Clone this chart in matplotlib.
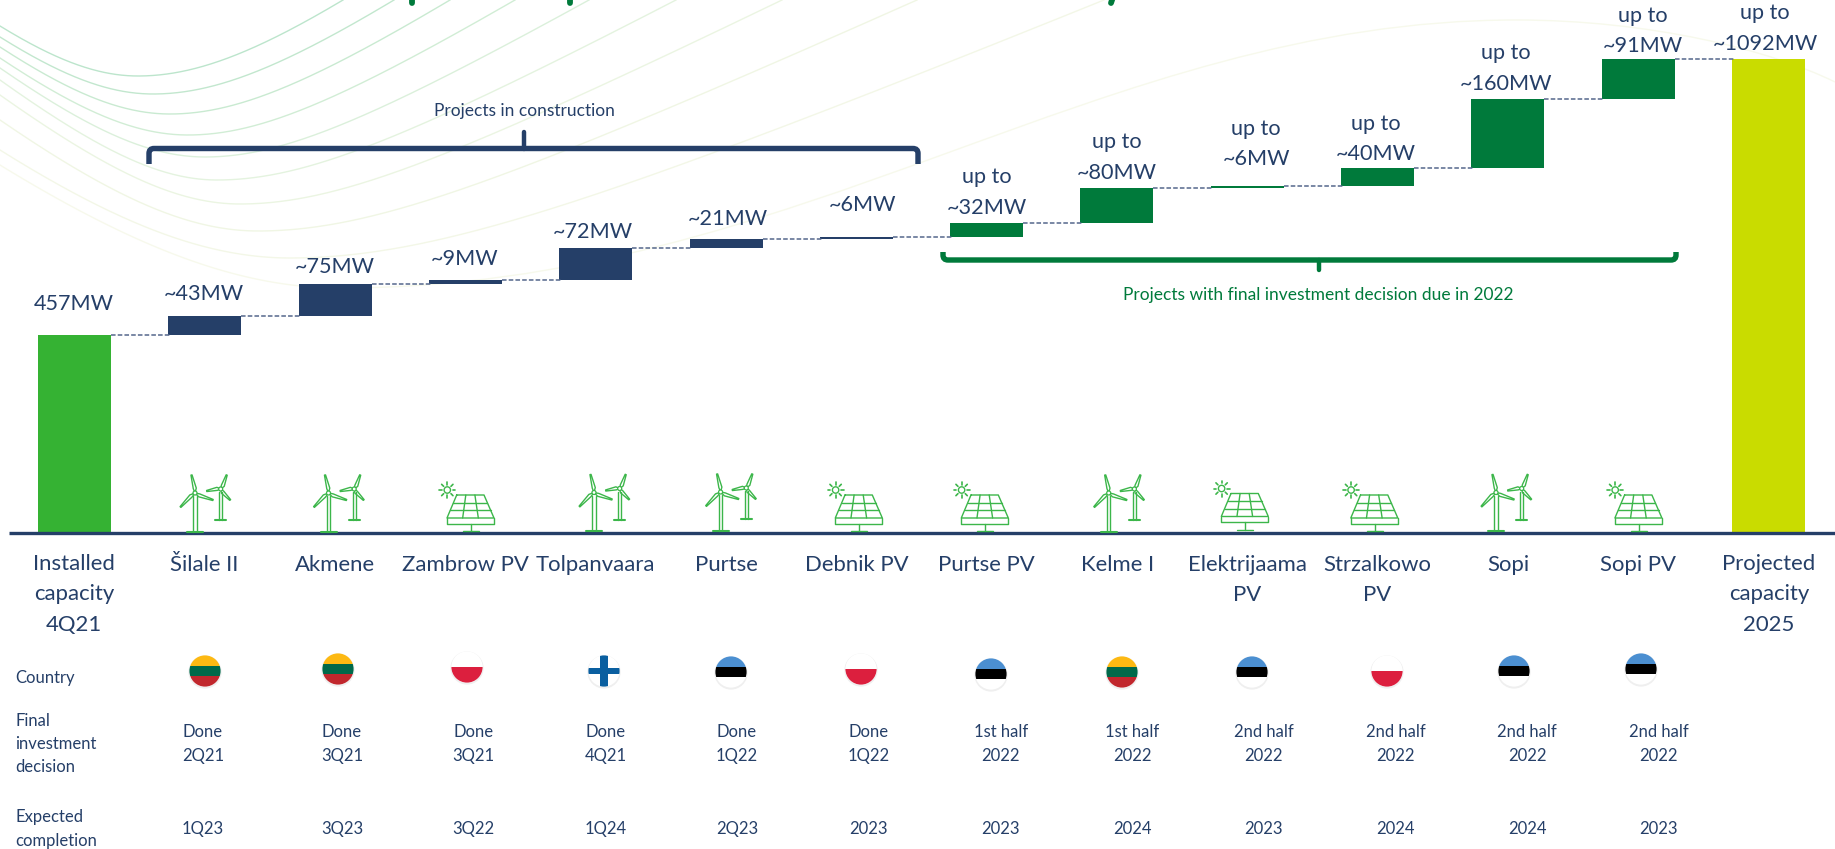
import matplotlib
matplotlib.use("Agg")
import matplotlib.pyplot as plt
from matplotlib.patches import Circle, Rectangle, PathPatch
from matplotlib.path import Path
import numpy as np

plt.rcParams['font.family'] = ['Lato', 'DejaVu Sans']

# ---------- data ----------
categories = ["Installed\ncapacity\n4Q21", "Šilale II", "Akmene", "Zambrow PV", "Tolpanvaara", "Purtse",
              "Debnik PV", "Purtse PV", "Kelme I", "Elektrijaama\nPV", "Strzalkowo\nPV", "Sopi", "Sopi PV",
              "Projected\ncapacity\n2025"]
values_mw = [457, 43, 75, 9, 72, 21, 6, 32, 80, 6, 40, 160, 91, 1092]
value_labels = ["457MW", "~43MW", "~75MW", "~9MW", "~72MW", "~21MW", "~6MW",
                "up to\n~32MW", "up to\n~80MW", "up to\n~6MW", "up to\n~40MW", "up to\n~160MW",
                "up to\n~91MW", "up to\n~1092MW"]
countries = [None, "LT", "LT", "PL", "FI", "EE", "PL", "EE", "LT", "EE", "PL", "EE", "EE", None]
tech = [None, "wind", "wind", "solar", "wind", "wind", "solar", "solar", "wind", "solar", "solar", "wind", "solar", None]
fid = [None, "Done\n2Q21", "Done\n3Q21", "Done\n3Q21", "Done\n4Q21", "Done\n1Q22", "Done\n1Q22",
       "1st half\n2022", "1st half\n2022", "2nd half\n2022", "2nd half\n2022", "2nd half\n2022", "2nd half\n2022", None]
completion = [None, "1Q23", "3Q23", "3Q22", "1Q24", "2Q23", "2023", "2023", "2024", "2023", "2024", "2024", "2023", None]
row_labels = ["Country", "Final\ninvestment\ndecision", "Expected\ncompletion"]
note_construction = "Projects in construction"
note_fid = "Projects with final investment decision due in 2022"

# ---------- styles / layout (pixels of the 1835x849 canvas) ----------
NAVY = "#253F68"; TXT = "#253F68"; GREEN = "#35B233"; DKGREEN = "#007A3B"; LIME = "#C9DC00"
W, H = 1835, 849
X0, DX = 74.5, 130.3
BASE_Y, PX_PER_MW = 533.0, 0.4338
BAR_W = 73 / DX

fig = plt.figure(figsize=(W / 100, H / 100), dpi=100)
ov = fig.add_axes([0, 0, 1, 1], zorder=0)
ov.set_xlim(0, W); ov.set_ylim(H, 0); ov.axis("off")
ax = fig.add_axes([0, 0, 1, 1], zorder=1)
ax.patch.set_alpha(0); ax.axis("off")
ax.set_xlim(-X0 / DX, (W - X0) / DX)
ax.set_ylim(-(H - BASE_Y) / PX_PER_MW, BASE_Y / PX_PER_MW)
PX = ov.transData


# ---------- background curves ----------
def hyper(x, xm, ym, s, a):
    return ym - s * (np.sqrt(a ** 2 + (x - xm) ** 2) - a)


def solve_a(D, rise, s):
    q = rise / s
    return (D ** 2 - q ** 2) / (2 * q)


curves = [(26, 138, 76, 343), (37, 153, 94, 394), (47, 170, 114, 450), (58, 188, 135, 515), (68, 205, 157, 589),
          (80, 217, 180, 676), (95, 240, 204, 782), (120, 258, 231, 917), (150, 290, 258, 1104)]
shades = ["#BCE5CC", "#C2E7CE", "#C9EAD1", "#D1EDD5", "#DBF0DB", "#E4F3DF", "#EBF5E2", "#F0F6E4", "#F3F7E7"]
slopes = np.linspace(.75, .42, len(curves))
for (y0, xm, ym, xt), c, s in zip(curves, shades, slopes):
    xl = np.linspace(0, xm, 120)
    xr = np.linspace(xm, xt, 300)
    yl = hyper(xl, xm, ym, .85, solve_a(xm, ym - y0, .85))
    yr = hyper(xr, xm, ym, s, solve_a(xt - xm, ym, s))
    ov.plot(np.r_[xl, xr], np.r_[yl, yr], color=c, lw=1.0)
xl = np.linspace(0, 340, 120)
ov.plot(xl, hyper(xl, 340, 288, .85, solve_a(340, 288 - 165, .85)), color="#F7F9EC", lw=1.0)
far = [(340, 288), (800, 288), (1100, 20), (1516, 20), (1650, 20), (1770, 50), (1835, 82)]
ov.add_patch(PathPatch(Path(far, [Path.MOVETO] + [Path.CURVE4] * 6), fc="none", ec="#F7F9EC", lw=1.0))

# clipped title remnants
for x, dx in [(412, 0), (570, 0), (1111, 2)]:
    ov.plot([x + dx, x], [-3, 3], color=DKGREEN, lw=4.2, solid_capstyle="round")

# ---------- waterfall ----------
bottoms, running = [], 0
for i, v in enumerate(values_mw):
    if i == 0 or i == len(values_mw) - 1:
        bottoms.append(0); running = v
    else:
        bottoms.append(running); running += v
colors = [GREEN] + [NAVY] * 6 + [DKGREEN] * 6 + [LIME]
xpos = np.arange(len(values_mw))
ax.bar(xpos, values_mw, bottom=bottoms, width=BAR_W, color=colors, lw=0)
for i in xpos[:-1]:
    lvl = bottoms[i] + values_mw[i]
    ax.plot([i + BAR_W / 2, i + 1 - BAR_W / 2 + .02], [lvl, lvl], color="#55678C", lw=1.1, dashes=(3, 1.4))
ax.plot([9 / DX - X0 / DX, (W - X0) / DX], [-1, -1], color=NAVY, lw=2.4, solid_capstyle="butt")


def T(x, y, s, size, color=TXT, ha="center", ls=None):
    return ax.text(x, y, s, transform=PX, fontsize=size, color=color, ha=ha, va="center",
                   linespacing=ls if ls else 1.2)


# value labels
val_x = [74, 204, 334.5, 465, 592.7, 727.7, 862.7, 986.6, 1117, 1256, 1375.7, 1506, 1643, 1765]
val_y = [304, 294, 267, 259, 231.5, 219, 205, 192.5, 157.5, 144, 139, 68.5, 31, 28.5]
for x, y, s in zip(val_x, val_y, value_labels):
    T(x, y, s, 15.6, ls=1.64)

# category labels
cat_x = [74, 204, 334.5, 465, 595.7, 726, 857, 986.6, 1117.5, 1247, 1377.4, 1508, 1638, 1769]
for x, s in zip(cat_x, categories):
    n = s.count("\n")
    T(x, 565 + n * 14.75, s, 15.9, ls=1.64)

# rows
T(15, 678, row_labels[0], 12, ha="left")
T(15, 744, row_labels[1], 12, ha="left", ls=1.55)
T(15, 829, row_labels[2], 12, ha="left", ls=1.55)
fid_x = [None, 203, 342, 473.6, 605.6, 737, 868.5, 1000.7, 1132, 1263.6, 1395.6, 1527, 1658.5, None]
for x, s, c in zip(fid_x, fid, completion):
    if s:
        T(x, 744, s, 12, ls=1.55)
        T(x, 829, c, 12)

T(524, 111, note_construction, 12.5)
T(1318, 295, note_fid, 12.5, color=DKGREEN)


# ---------- brackets ----------
def bracket(x0, x1, y, yend, xmid, ytip, col):
    s = np.sign(yend - y)
    r = 5
    verts = [(x0, yend), (x0, y + s * r), (x0, y), (x0 + r, y), (x1 - r, y), (x1, y), (x1, y + s * r), (x1, yend)]
    codes = [Path.MOVETO, Path.LINETO, Path.CURVE3, Path.CURVE3, Path.LINETO, Path.CURVE3, Path.CURVE3, Path.LINETO]
    ax.add_patch(PathPatch(Path(verts, codes), transform=PX, fc="none", ec=col, lw=3.9, capstyle="butt"))
    ax.plot([xmid, xmid], [y, ytip], transform=PX, color=col, lw=3.2, solid_capstyle="round")


bracket(149, 918, 148.5, 164, 524, 132, NAVY)
bracket(943, 1676, 260, 252, 1319, 270, DKGREEN)

# ---------- icons ----------
ICON = "#3CB64A"


def L(xs, ys, lw=1.0, c=ICON):
    ax.plot(xs, ys, transform=PX, color=c, lw=lw, solid_joinstyle="round", solid_capstyle="round")


def blade(hx, hy, tx, ty, w):
    dx, dy = tx - hx, ty - hy
    n = np.hypot(dx, dy); ux, uy = dx / n, dy / n
    px, py = -uy * w, ux * w
    a = (hx + dx * .25 + px, hy + dy * .25 + py)
    b = (hx + dx * .25 - px * .4, hy + dy * .25 - py * .4)
    t1 = (tx + px * .25, ty + py * .25)
    t2 = (tx - px * .25, ty - py * .25)
    L([hx, a[0], t1[0], t2[0], b[0], hx], [hy, a[1], t1[1], t2[1], b[1], hy])


def turbine(x, base, hub_h, tips, tw, foot):
    hy = base - hub_h
    L([x - tw, x - tw], [base, hy + 3]); L([x + tw, x + tw], [base, hy + 3])
    L([x - foot, x + foot], [base, base], lw=1.5)
    for tx, ty in tips:
        blade(x, hy, x + tx, hy + ty, 2.2)
    ax.add_patch(Circle((x, hy), 2, transform=PX, fc="white", ec=ICON, lw=.9, zorder=3))


def wind(x, dy=0):
    turbine(x, 531.5 + dy, 38.5, [(-3.5, -18), (18, 7), (-14.5, 14)], 1.6, 8)
    turbine(x + 25.7, 520 + dy, 31, [(6, -14), (-14, 2), (9.5, 11)], 1.4, 5.5)


def solar(x, dy=0):
    y = lambda v: v + dy
    tx0, tx1, bx0, bx1 = x - 14, x + 13.3, x - 23.7, x + 23.3
    L([tx0, tx1, bx1, bx0, tx0], [y(495)] * 2 + [y(518)] * 2 + [y(495)])
    L([bx0, bx0, bx1, bx1], [y(518), y(523.5), y(523.5), y(518)])
    for f in (1 / 3, 2 / 3):
        L([tx0 + (tx1 - tx0) * f, bx0 + (bx1 - bx0) * f], [y(495), y(518)])
    for f in (1 / 3, 2 / 3):
        L([tx0 + (bx0 - tx0) * f, tx1 + (bx1 - tx1) * f], [y(495 + 23 * f)] * 2)
    L([x, x], [y(523.5), y(531)])
    L([x - 8, x + 8], [y(531), y(531)])
    sx, sy = x - 23.4, y(490)
    ax.add_patch(Circle((sx, sy), 3.2, transform=PX, fc="white", ec=ICON, lw=1))
    for k in range(8):
        a = k * np.pi / 4
        L([sx + 5.2 * np.cos(a), sx + 8 * np.cos(a)], [sy + 5.2 * np.sin(a), sy + 8 * np.sin(a)], lw=1.2)


icon_x = [None, 195, 328.5, 470.7, 594, 720.6, 859, 985, 1108.7, 1245, 1374.5, 1496, 1638.6, None]
icon_dy = [0, 0, 0, 0, -.5, -1, 0, 0, 0, -1.5, 0, -.5, 0, 0]
for x, t, d in zip(icon_x, tech, icon_dy):
    if t == "wind":
        wind(x, d)
    elif t == "solar":
        solar(x, d)


# ---------- flags ----------
def flag(cx, cy, code, r=15.6):
    ax.add_patch(Circle((cx, cy + 1), r + 1, transform=PX, fc="#EFEFEF", ec="none"))
    disc = Circle((cx, cy), r, transform=PX, fc="white", ec="none")
    ax.add_patch(disc)
    if code == "LT":
        rects = [(-r, r * 2, -r, -5, "#FDB913"), (-r, r * 2, -5, 5.3, "#00694A"), (-r, r * 2, 5.3, r, "#C1272D")]
    elif code == "EE":
        rects = [(-r, r * 2, -r, -5, "#4B8FD1"), (-r, r * 2, -5, 5.3, "#000000")]
    elif code == "PL":
        rects = [(-r, r * 2, 0, r, "#DC1F3E")]
    else:
        rects = [(-4, 8, -r, r, "#0A5FA0"), (-r, r * 2, -2.8, 2.8, "#0A5FA0")]
    for x, w, y0, y1, c in rects:
        p = Rectangle((cx + x, cy + y0), w, y1 - y0, transform=PX, fc=c, ec="none")
        ax.add_patch(p)
        p.set_clip_path(disc)


flag_x = [None, 205, 338, 467, 604, 731, 861, 991, 1122, 1252, 1387, 1514, 1641, None]
flag_y = [None, 671, 669, 667, 671, 672, 669, 674, 672, 672, 671, 671, 669, None]
for x, y, c in zip(flag_x, flag_y, countries):
    if c:
        flag(x, y, c)

fig.savefig("out.png", dpi=100)
